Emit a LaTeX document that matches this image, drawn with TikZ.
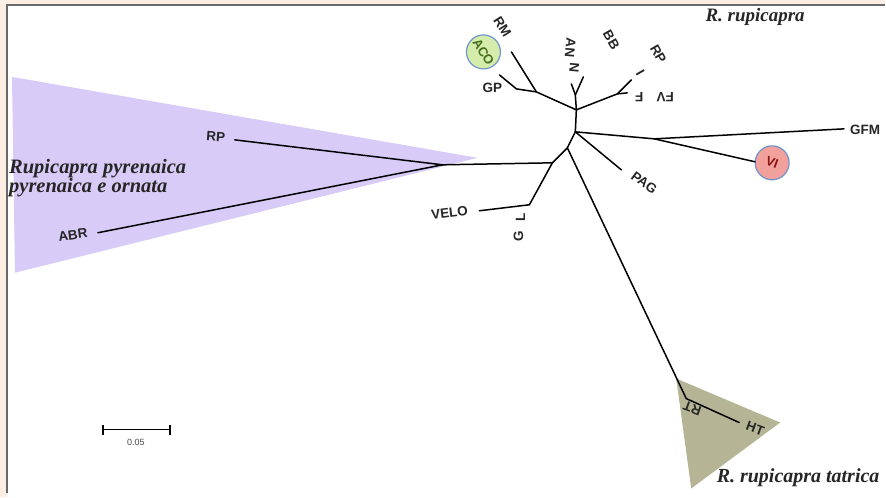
\documentclass[tikz,border=0pt]{standalone}
\usepackage{fontspec}
\setmainfont{Liberation Serif}
\setsansfont{Liberation Sans}
\definecolor{pagebg}{RGB}{252,238,227}
\definecolor{framegray}{RGB}{105,105,105}
\definecolor{lavender}{RGB}{217,203,247}
\definecolor{olivegray}{RGB}{181,181,150}
\definecolor{acofill}{RGB}{214,236,170}
\definecolor{vifill}{RGB}{242,160,155}
\definecolor{ringblue}{RGB}{110,150,205}
\definecolor{acotext}{RGB}{70,110,30}
\definecolor{vitext}{RGB}{140,20,20}
\begin{document}
\begin{tikzpicture}[x=1pt,y=-1pt,
  branch/.style={line width=1.5pt,black,line cap=round},
  taxon/.style={font=\sffamily\bfseries\fontsize{13.5}{13.5}\selectfont,inner sep=0pt,text=black!85},
  clade/.style={font=\bfseries\itshape\fontsize{19}{20}\selectfont,inner sep=0pt,text=black!85,align=left},
  ring/.style={circle,draw=ringblue,line width=1.2pt,minimum size=34pt,inner sep=0pt,
    font=\sffamily\bfseries\fontsize{13}{13}\selectfont}]
% page and frame
\fill[pagebg] (0,0) rectangle (886,498);
\fill[white] (7,5) rectangle (886,498);
\draw[framegray,line width=2pt] (7,494) -- (7,5) -- (886,5);
\useasboundingbox (0,0) rectangle (886,498);

% clade shading
\fill[lavender] (12,77) -- (478,158) -- (15,273) -- cycle;
\fill[olivegray] (677,379) -- (781,423) -- (692,489) -- cycle;

% highlighted taxa, label set inside the ring
\node[ring,fill=acofill,text=acotext,rotate=-58] (aco) at (484,52) {ACO};
\node[ring,fill=vifill,text=vitext,rotate=-20] (vi) at (773,163) {VI};

% tree vertices
\coordinate (U) at (577,110);
\coordinate (L) at (576,132);
\coordinate (G1) at (537,92);
\coordinate (RMt) at (512,52);
\coordinate (GPn) at (517,89);
\coordinate (ACOt) at (500,75);
\coordinate (Nn) at (576,95);
\coordinate (N1) at (572,84);
\coordinate (N2) at (584,77);
\coordinate (FVn) at (618,94);
\coordinate (Ft) at (628,93);
\coordinate (It) at (632,80);
\coordinate (V1) at (655,139);
\coordinate (GFMt) at (845,129);
\coordinate (VIt) at (756,162);
\coordinate (PAGt) at (622,170);
\coordinate (Q) at (568,148);
\coordinate (P) at (553,163);
\coordinate (Pyr) at (443,165);
\coordinate (RPt) at (235,140);
\coordinate (ABRt) at (98,233);
\coordinate (VELOn) at (530,205);
\coordinate (VELOt) at (480,211);
\coordinate (Tn) at (687,399);
\coordinate (HTt) at (740,423);

% branches
\draw[branch] (U) -- (L);
\draw[branch] (U) -- (G1) -- (RMt);
\draw[branch] (G1) -- (GPn) -- (ACOt);
\draw[branch] (U) -- (Nn) -- (N1);
\draw[branch] (Nn) -- (N2);
\draw[branch] (U) -- (FVn) -- (Ft);
\draw[branch] (FVn) -- (It);
\draw[branch] (L) -- (V1) -- (GFMt);
\draw[branch] (V1) -- (VIt);
\draw[branch] (L) -- (PAGt);
\draw[branch] (L) -- (Q) -- (P) -- (Pyr) -- (RPt);
\draw[branch] (Pyr) -- (ABRt);
\draw[branch] (P) -- (VELOn) -- (VELOt);
\draw[branch] (Q) -- (Tn) -- (HTt);

% taxon labels
\node[taxon] (gp) at (493,88) {GP};
\node[taxon,rotate=-58] (rm) at (503,27) {RM};
\node[taxon,rotate=-95] (n1) at (575,68) {N};
\node[taxon,rotate=-95] (n2) at (571,48) {AN};
\node[taxon,rotate=-60] (bb) at (612,40) {BB};
\node[taxon,rotate=-60] (rp2) at (659,54) {RP};
\node[taxon,rotate=-60] (il) at (641,73) {I};
\node[taxon,rotate=180] (fl) at (640,97) {F};
\node[taxon,rotate=180] (fv) at (666,97) {FV};
\node[taxon] (gfm) at (866,130) {GFM};
\node[taxon,rotate=-37] (pag) at (645,183) {PAG};
\node[taxon,rotate=7] (velo) at (450,213) {VELO};
\node[taxon,rotate=90] (ll) at (521,218) {L};
\node[taxon,rotate=90] (gl) at (519,237) {G};
\node[taxon,rotate=-4] (rp) at (216,137) {RP};
\node[taxon,rotate=8] (abr) at (73,235) {ABR};
\node[taxon,rotate=160] (rt) at (693,409) {RT};
\node[taxon,rotate=-20] (ht) at (756,429) {HT};

% clade names
\node[clade,anchor=center] (rrup) at (756,17) {R. rupicapra};
\node[clade,anchor=west,font=\bfseries\itshape\fontsize{20.5}{19}\selectfont] (rpyr) at (9,178)
  {Rupicapra pyrenaica\\pyrenaica e ornata};
\node[clade,anchor=center,font=\bfseries\itshape\fontsize{20}{20}\selectfont] (rtat) at (799,478) {R. rupicapra tatrica};

% scale bar
\coordinate (sb1) at (103,430);
\coordinate (sb2) at (170,430);
\draw[line width=1.4pt] (sb1) -- (sb2);
\draw[line width=1.4pt] ([yshift=-5pt]sb1) -- ([yshift=5pt]sb1);
\draw[line width=1.4pt] ([yshift=-5pt]sb2) -- ([yshift=5pt]sb2);
\node[font=\sffamily\fontsize{9}{9}\selectfont,text=black!70] (sbl) at (136,443) {0.05};
\end{tikzpicture}
\end{document}
